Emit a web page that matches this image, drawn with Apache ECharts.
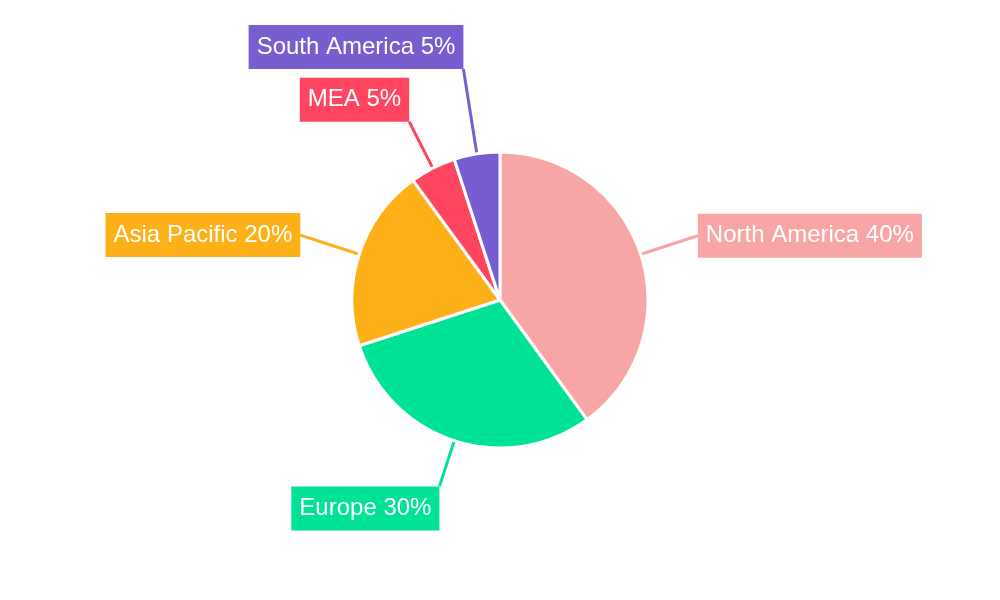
<!DOCTYPE html>
<html>
<head>
<meta charset="utf-8">
<script src="https://cdn.jsdelivr.net/npm/echarts@6/dist/echarts.min.js"></script>
<style>
  html, body { margin: 0; padding: 0; background: #fff; }
  #chart { width: 1000px; height: 600px; }
</style>
</head>
<body>
<div id="chart"></div>
<script>
// regions, clockwise from 12 o'clock
const regions = ['North America', 'Europe', 'Asia Pacific', 'MEA', 'South America']
const shares = [40, 30, 20, 5, 5]
const colors = ['#F8A5A6', '#00E396', '#FEB019', '#FF4560', '#775DD0']

// leader line length per slice (the small slices are pushed apart)
const lineLengths = [60, 48, 62, 52, 86]

const chart = echarts.init(document.getElementById('chart'))

const option = {
  animation: false,
  color: colors,
  series: [
    {
      type: 'pie',
      center: [500, 300],
      radius: 148,
      startAngle: 90,
      clockwise: true,
      avoidLabelOverlap: false,
      data: regions.map((name, i) => ({
        name: name,
        value: shares[i],
        labelLine: { length: lineLengths[i] }
      })),
      itemStyle: {
        borderColor: '#fff',
        borderWidth: 3
      },
      label: {
        show: true,
        formatter: '{b} {d}%',
        color: '#fff',
        fontFamily: 'Liberation Sans, Arial, sans-serif',
        fontSize: 24,
        padding: [10, 8],
        distanceToLabelLine: 0,
        backgroundColor: 'inherit'
      },
      labelLine: {
        show: true,
        length2: 0,
        smooth: false,
        lineStyle: { width: 3 }
      },
      labelLayout: function (p) {
        const pts = p.labelLinePoints
        if (!pts) return {}
        const dx = pts[2][0] - pts[0][0]
        const dy = pts[2][1] - pts[0][1]
        if (Math.abs(dy) > Math.abs(dx)) {
          return { verticalAlign: dy > 0 ? 'top' : 'bottom' }
        }
        return {}
      },
      emphasis: { disabled: true }
    }
  ]
}

chart.setOption(option)
</script>
</body>
</html>
